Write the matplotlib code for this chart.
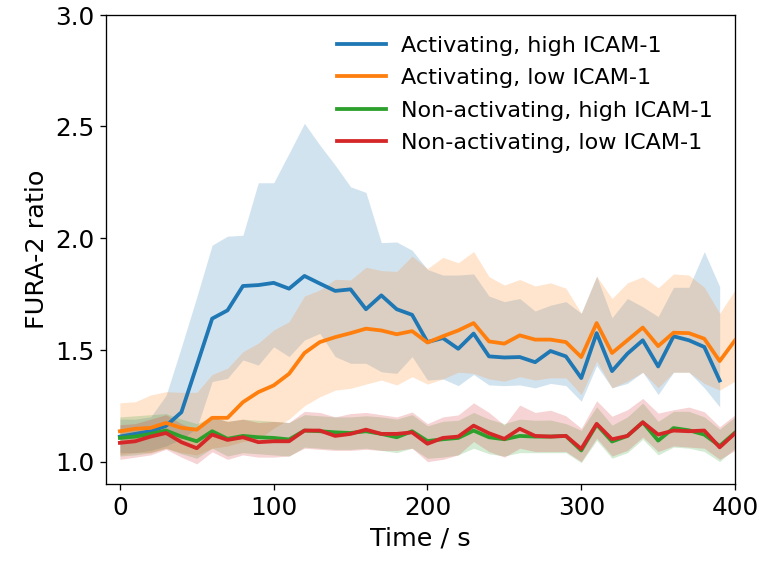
import numpy as np
import matplotlib
matplotlib.use("Agg")
import matplotlib.pyplot as plt

time_s = list(range(0, 410, 10))  # 0..400

labels = ["Activating, high ICAM-1", "Activating, low ICAM-1",
          "Non-activating, high ICAM-1", "Non-activating, low ICAM-1"]
colors = ["#1f77b4", "#ff7f0e", "#2ca02c", "#d62728"]

# Activating, high ICAM-1 (ends at 390 s)
act_high_mean = [1.112, 1.124, 1.136, 1.160, 1.221, 1.430, 1.640, 1.677, 1.786, 1.790,
                 1.800, 1.774, 1.831, 1.797, 1.764, 1.771, 1.682, 1.744, 1.682, 1.657,
                 1.535, 1.553, 1.505, 1.573, 1.471, 1.466, 1.468, 1.445, 1.495, 1.471,
                 1.374, 1.575, 1.405, 1.483, 1.543, 1.426, 1.561, 1.543, 1.513, 1.363]
act_high_upper = [1.19, 1.19, 1.20, 1.296, 1.513, 1.737, 1.969, 2.009, 2.013, 2.248,
                  2.248, 2.380, 2.514, 2.417, 2.327, 2.230, 2.205, 1.980, 1.983, 1.946,
                  1.860, 1.835, 1.835, 1.840, 1.741, 1.716, 1.730, 1.674, 1.700, 1.716,
                  1.664, 1.830, 1.644, 1.730, 1.693, 1.649, 1.780, 1.780, 1.940, 1.783]
act_high_lower = [1.04, 1.04, 1.05, 1.07, 1.10, 1.15, 1.358, 1.373, 1.455, 1.432,
                  1.514, 1.470, 1.544, 1.574, 1.470, 1.440, 1.440, 1.402, 1.395, 1.470,
                  1.365, 1.370, 1.340, 1.390, 1.343, 1.340, 1.343, 1.330, 1.350, 1.340,
                  1.270, 1.430, 1.330, 1.350, 1.400, 1.300, 1.400, 1.400, 1.330, 1.245]

# Activating, low ICAM-1
act_low_mean = [1.136, 1.147, 1.151, 1.173, 1.151, 1.143, 1.196, 1.196, 1.266, 1.311,
                1.341, 1.393, 1.486, 1.535, 1.557, 1.575, 1.595, 1.587, 1.570, 1.584,
                1.533, 1.561, 1.587, 1.620, 1.538, 1.528, 1.565, 1.546, 1.546, 1.535,
                1.468, 1.620, 1.486, 1.543, 1.600, 1.517, 1.577, 1.575, 1.550, 1.450, 1.543]
act_low_upper = [1.263, 1.268, 1.298, 1.313, 1.310, 1.310, 1.390, 1.418, 1.492, 1.530,
                 1.589, 1.626, 1.741, 1.768, 1.816, 1.813, 1.870, 1.855, 1.851, 1.920,
                 1.864, 1.914, 1.890, 1.940, 1.828, 1.790, 1.815, 1.786, 1.800, 1.776,
                 1.664, 1.830, 1.730, 1.800, 1.827, 1.778, 1.840, 1.835, 1.780, 1.664, 1.768]
act_low_lower = [1.03, 1.04, 1.04, 1.06, 1.04, 1.03, 1.06, 1.07, 1.09, 1.10,
                 1.15, 1.19, 1.25, 1.29, 1.32, 1.328, 1.347, 1.365, 1.343, 1.380,
                 1.347, 1.370, 1.400, 1.395, 1.370, 1.360, 1.380, 1.365, 1.375, 1.375,
                 1.300, 1.450, 1.330, 1.360, 1.400, 1.330, 1.400, 1.400, 1.350, 1.320, 1.360]

# Non-activating, high ICAM-1
non_high_mean = [1.106, 1.112, 1.124, 1.139, 1.112, 1.091, 1.136, 1.102, 1.115, 1.109,
                 1.106, 1.099, 1.139, 1.136, 1.131, 1.128, 1.136, 1.124, 1.109, 1.136,
                 1.092, 1.100, 1.106, 1.139, 1.109, 1.100, 1.115, 1.112, 1.112, 1.115,
                 1.050, 1.166, 1.090, 1.115, 1.176, 1.094, 1.150, 1.140, 1.121, 1.070, 1.130]
non_high_upper = [1.20, 1.205, 1.21, 1.215, 1.19, 1.17, 1.20, 1.18, 1.19, 1.185,
                  1.18, 1.175, 1.21, 1.205, 1.20, 1.20, 1.205, 1.20, 1.19, 1.21,
                  1.16, 1.18, 1.185, 1.22, 1.19, 1.17, 1.19, 1.185, 1.186, 1.17,
                  1.14, 1.245, 1.163, 1.20, 1.262, 1.18, 1.225, 1.225, 1.20, 1.145, 1.20]
non_high_lower = [1.025, 1.03, 1.04, 1.06, 1.035, 1.015, 1.06, 1.025, 1.04, 1.035,
                  1.03, 1.025, 1.065, 1.06, 1.055, 1.055, 1.06, 1.05, 1.04, 1.06,
                  1.015, 1.02, 1.03, 1.06, 1.035, 1.025, 1.04, 1.04, 1.04, 1.04,
                  0.995, 1.095, 1.015, 1.04, 1.10, 1.03, 1.065, 1.06, 1.045, 1.00, 1.06]

# Non-activating, low ICAM-1
non_low_mean = [1.084, 1.091, 1.112, 1.128, 1.087, 1.060, 1.121, 1.097, 1.109, 1.087,
                1.091, 1.091, 1.139, 1.139, 1.115, 1.124, 1.143, 1.124, 1.124, 1.131,
                1.080, 1.106, 1.112, 1.161, 1.127, 1.102, 1.147, 1.115, 1.112, 1.115,
                1.057, 1.169, 1.100, 1.115, 1.176, 1.121, 1.139, 1.136, 1.139, 1.064, 1.127]
non_low_upper = [1.165, 1.17, 1.19, 1.21, 1.17, 1.14, 1.20, 1.18, 1.19, 1.175,
                 1.18, 1.175, 1.225, 1.22, 1.20, 1.215, 1.22, 1.21, 1.20, 1.222,
                 1.17, 1.20, 1.209, 1.263, 1.22, 1.163, 1.253, 1.22, 1.23, 1.205,
                 1.149, 1.272, 1.203, 1.232, 1.283, 1.217, 1.232, 1.244, 1.223, 1.156, 1.21]
non_low_lower = [1.01, 1.02, 1.03, 1.055, 1.02, 0.99, 1.044, 1.01, 1.03, 1.02,
                 1.02, 1.025, 1.06, 1.055, 1.05, 1.05, 1.055, 1.05, 1.05, 1.06,
                 1.00, 1.01, 1.03, 1.09, 1.045, 1.02, 1.06, 1.045, 1.045, 1.045,
                 1.00, 1.105, 1.025, 1.05, 1.11, 1.045, 1.07, 1.065, 1.06, 1.01, 1.05]

series = [
    (act_high_mean, act_high_lower, act_high_upper),
    (act_low_mean, act_low_lower, act_low_upper),
    (non_high_mean, non_high_lower, non_high_upper),
    (non_low_mean, non_low_lower, non_low_upper),
]

plt.rcParams['font.family'] = ['DejaVu Sans']
plt.rcParams['font.size'] = 15

fig = plt.figure(figsize=(6.4, 4.8), dpi=118.6)
ax = fig.add_axes([0.1397, 0.1494, 0.9684 - 0.1397, 0.9736 - 0.1494])

for (m, lo, hi), lab, c in zip(series, labels, colors):
    t = time_s[:len(m)]
    ax.fill_between(t, lo, hi, color=c, alpha=0.2, linewidth=0, zorder=1)
    ax.plot(t, m, color=c, lw=2.3, label=lab, zorder=3)

ax.set_xlim(-9, 400)
ax.set_ylim(0.9, 3.0)
ax.set_xticks([0, 100, 200, 300, 400])
ax.set_yticks([1.0, 1.5, 2.0, 2.5, 3.0])
ax.set_xlabel("Time / s", fontsize=15.5)
ax.set_ylabel("FURA-2 ratio", fontsize=15.5)
ax.legend(loc="upper right", frameon=False, fontsize=13.5,
          handlelength=2.2, labelspacing=0.56, handletextpad=0.7,
          bbox_to_anchor=(0.997, 0.998))

fig.savefig("out.png", dpi=118.6)
